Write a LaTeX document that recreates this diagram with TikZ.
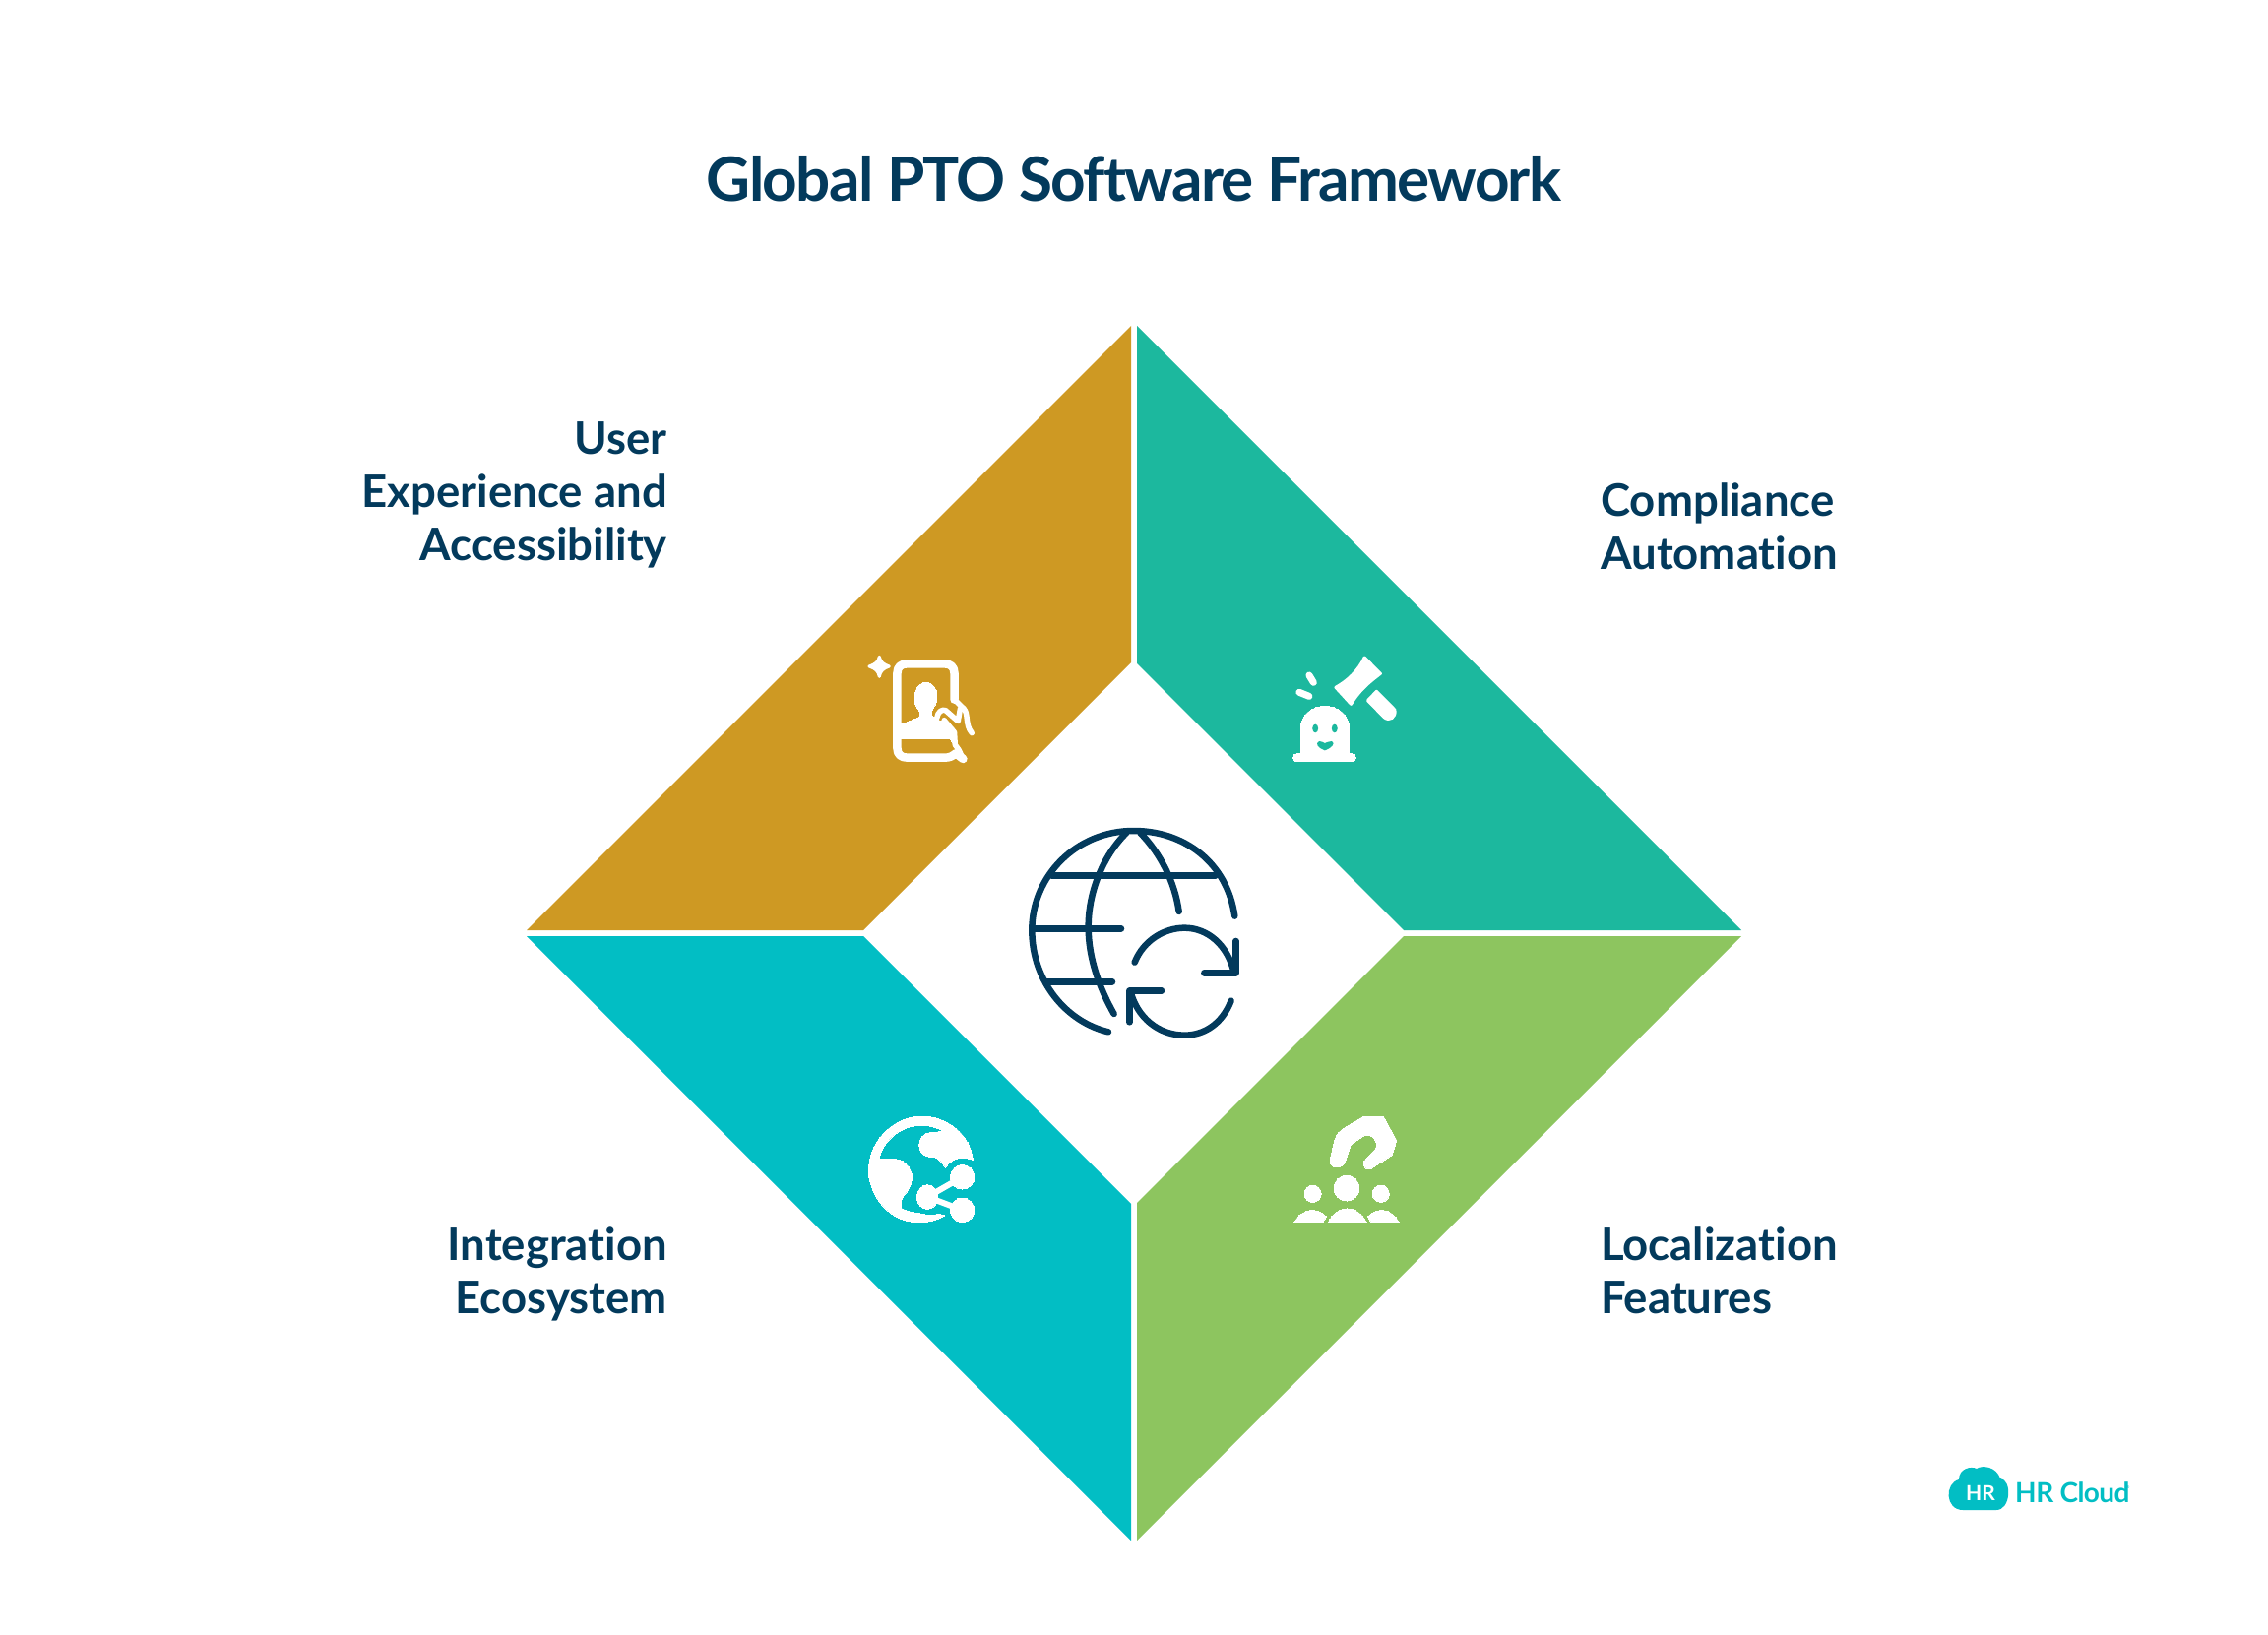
\documentclass[tikz,border=0pt]{standalone}
\usepackage{fontspec}
\setmainfont{Lato}[Ligatures=NoCommon]
\definecolor{navy}{HTML}{033A5C}
\definecolor{gold}{HTML}{CE9923}
\definecolor{teal2}{HTML}{1CB89E}
\definecolor{cyan2}{HTML}{02BEC4}
\definecolor{green2}{HTML}{8DC55F}
\tikzset{
 lab/.style={text=navy,font=\fontsize{45.5}{45.5}\selectfont\bfseries,inner sep=0pt},
 ico/.style={fill=white,draw=white,line width=3pt,line join=round},
 icl/.style={draw=white,line cap=round,line join=round,line width=9pt},
 globe/.style={draw=navy,line width=6.5pt,line cap=round,line join=round},
 zooma/.style={shift={(860,640)},xscale=0.37,yscale=0.3333},
 zoomb/.style={shift={(860,1110)},xscale=0.37,yscale=0.3333},
}
\begin{document}
\begin{tikzpicture}[x=1pt,y=-1pt]
\useasboundingbox (0,0) rectangle (2304,1661);
\fill[white] (0,0) rectangle (2304,1661);
\node[text=navy,font=\fontsize{62}{62}\selectfont\bfseries\addfontfeature{LetterSpace=-2.7},anchor=base,inner sep=0pt] (title) at (1152,205) {Global PTO Software Framework};
% quadrants
\fill[gold] (1149,331) -- (1149,673) -- (877,945) -- (535,945) -- cycle;
\fill[teal2] (1155,331) -- (1155,674) -- (1426,945) -- (1769,945) -- cycle;
\fill[cyan2] (1149,1565) -- (1149,1223) -- (877,951) -- (535,951) -- cycle;
\fill[green2] (1155,1565) -- (1155,1222) -- (1426,951) -- (1769,951) -- cycle;
% labels
\node[lab,anchor=base east] (u1) at (678,461) {User};
\node[lab,anchor=base east] (u2) at (678,515) {Experience and};
\node[lab,anchor=base east] (u3) at (678,569) {Accessibility};
\node[lab,anchor=base west] (c1) at (1626,524) {Compliance};
\node[lab,anchor=base west] (c2) at (1626,578) {Automation};
\node[lab,anchor=base east] (i1) at (678,1280) {Integration};
\node[lab,anchor=base east] (i2) at (678,1334) {Ecosystem};
\node[lab,anchor=base west] (l1) at (1626,1280) {Localization};
\node[lab,anchor=base west] (l2) at (1626,1334) {Features};
% phone icon
\begin{scope}[zooma]
\fill[ico] (90,82) .. controls (93,98) and (102,105) .. (117,111) .. controls (102,117) and (93,124) .. (90,142) .. controls (87,124) and (78,117) .. (62,111) .. controls (78,105) and (87,98) .. (90,82) -- cycle;
\draw[icl,line width=8.5pt] (296,212) -- (296,132) .. controls (296,112) and (285,103) .. (268,103) -- (167,103) .. controls (150,103) and (139,112) .. (139,132) -- (139,360) .. controls (139,380) and (150,389) .. (167,389) -- (270,389) .. controls (283,389) and (290,385) .. (300,376) -- (320,393);
\draw[icl,line width=5.5pt] (296,212) -- (322,240) .. controls (335,255) and (325,290) .. (344,314);
\draw[icl,line width=5.5pt] (312,240) -- (306,278) -- (272,245) .. controls (262,240) and (250,250) .. (248,268);
\fill[ico,line width=0pt] (150,288) -- (195,268) .. controls (205,262) and (203,250) .. (195,238) .. controls (185,225) and (185,200) .. (190,185) .. controls (198,152) and (238,152) .. (246,185) .. controls (251,205) and (247,225) .. (238,238) .. controls (230,250) and (232,262) .. (242,268) -- (264,280) -- (296,312) -- (298,350) -- (284,333) -- (150,333) -- cycle;
\draw[icl,line width=5.5pt] (268,275) -- (296,312) -- (298,350) -- (308,365) -- (320,393);
\end{scope}
% gavel icon
\begin{scope}[zooma]
\fill[ico] (1422,84) -- (1466,133) .. controls (1440,155) and (1410,180) .. (1385,226) -- (1343,175) .. controls (1375,155) and (1405,125) .. (1422,84) -- cycle;
\fill[ico] (1455,187) -- (1431,215) -- (1476,266) .. controls (1490,280) and (1510,266) .. (1505,243) -- cycle;
\draw[icl,line width=7pt] (1270,138) -- (1282,160);
\draw[icl,line width=7pt] (1243,190) -- (1270,202);
\fill[ico,line width=0pt] (1247,376) -- (1247,300) .. controls (1247,210) and (1380,210) .. (1380,300) -- (1380,376) -- (1385,376) .. controls (1402,376) and (1402,402) .. (1385,402) -- (1238,402) .. controls (1222,402) and (1222,376) .. (1238,376) -- cycle;
\fill[teal2] (1287,300) ellipse [x radius=8,y radius=13];
\fill[teal2] (1340,300) ellipse [x radius=8,y radius=13];
\fill[teal2] (1313,367) .. controls (1295,360) and (1284,345) .. (1298,339) .. controls (1306,338) and (1310,345) .. (1313,345) .. controls (1318,345) and (1325,337) .. (1332,339) .. controls (1344,345) and (1332,360) .. (1313,367) -- cycle;
\end{scope}
% network globe icon
\begin{scope}[zoomb]
\fill[ico,line width=0pt] (268,118) .. controls (200,75) and (110,110) .. (88,203) -- (130,203) .. controls (180,205) and (195,265) .. (160,310) .. controls (148,322) and (150,335) .. (150,352) .. controls (180,370) and (200,365) .. (225,375) .. controls (240,375) and (255,365) .. (268,375) .. controls (200,420) and (90,395) .. (62,260) .. controls (50,150) and (130,72) .. (205,72) .. controls (280,72) and (340,130) .. (347,205) .. controls (320,195) and (290,195) .. (272,228) .. controls (258,215) and (260,195) .. (225,195) .. controls (190,190) and (190,125) .. (230,122) -- cycle;
\fill[ico,line width=0pt] (318,257) ellipse [x radius=33,y radius=37];
\fill[ico,line width=0pt] (318,358) ellipse [x radius=33,y radius=37];
\fill[ico,line width=0pt] (222,318) ellipse [x radius=29,y radius=37];
\draw[icl,line width=6pt] (222,318) -- (318,257);
\draw[icl,line width=6pt] (222,318) -- (318,358);
\end{scope}
% people icon
\begin{scope}[zoomb]
\fill[ico,line width=0pt] (1420,72) -- (1474,72) -- (1510,145) -- (1498,190) -- (1440,232) .. controls (1425,240) and (1412,220) .. (1425,203) -- (1452,172) .. controls (1462,150) and (1445,125) .. (1422,130) -- (1385,158) -- (1367,215) .. controls (1355,235) and (1325,230) .. (1327,205) -- (1340,145) .. controls (1345,125) and (1355,115) .. (1370,105) -- cycle;
\fill[ico,line width=0pt] (1373,291) ellipse [x radius=35,y radius=39];
\fill[ico,line width=0pt] (1280,308) ellipse [x radius=23,y radius=26];
\fill[ico,line width=0pt] (1467,308) ellipse [x radius=23,y radius=26];
\fill[ico,line width=0pt] (1322,396) .. controls (1345,340) and (1405,340) .. (1428,396) -- cycle;
\fill[ico,line width=0pt] (1229,396) .. controls (1250,350) and (1295,350) .. (1317,378) -- (1307,396) -- cycle;
\fill[ico,line width=0pt] (1517,396) .. controls (1497,350) and (1455,350) .. (1431,378) -- (1441,396) -- cycle;
\end{scope}
% centre globe
\begin{scope}[shift={(1020,820)},scale=0.3333]
\draw[globe] (703,332) .. controls (680,170) and (550,72) .. (395,72) .. controls (220,72) and (85,210) .. (85,375) .. controls (85,530) and (190,655) .. (318,685);
\draw[globe] (373,78) .. controls (300,150) and (257,260) .. (257,365) .. controls (257,460) and (290,550) .. (335,630);
\draw[globe] (415,78) .. controls (475,140) and (520,225) .. (533,318);
\draw[globe] (145,208) -- (645,208);
\draw[globe] (95,370) -- (357,370);
\draw[globe] (130,532) -- (330,532);
\draw[globe] (398,473) .. controls (425,405) and (490,368) .. (550,368) .. controls (620,368) and (680,420) .. (700,500);
\draw[globe] (707,408) -- (707,505) -- (610,505);
\draw[globe] (692,590) .. controls (665,660) and (610,695) .. (550,695) .. controls (470,695) and (405,640) .. (385,560);
\draw[globe] (382,655) -- (382,560) -- (480,560);
\end{scope}
% logo
\fill[cyan2] (1994,1534) .. controls (1976,1534) and (1975,1507) .. (1990,1503) .. controls (1990,1492) and (2002,1489) .. (2008,1492) .. controls (2014,1488) and (2028,1490) .. (2032,1502) .. controls (2044,1503) and (2043,1534) .. (2028,1534) -- cycle;
\node[text=white,font=\fontsize{21}{21}\selectfont\bfseries,inner sep=0pt] (hr) at (2012,1517) {HR};
\node[text=cyan2,font=\fontsize{28}{28}\selectfont\bfseries\addfontfeature{LetterSpace=-2},anchor=base west,inner sep=0pt] (brand) at (2047,1526) {HR Cloud};
\node[text=cyan2,font=\fontsize{4}{4}\selectfont,anchor=base west,inner sep=0pt] (reg) at (2160,1512) {®};
\end{tikzpicture}
\end{document}
